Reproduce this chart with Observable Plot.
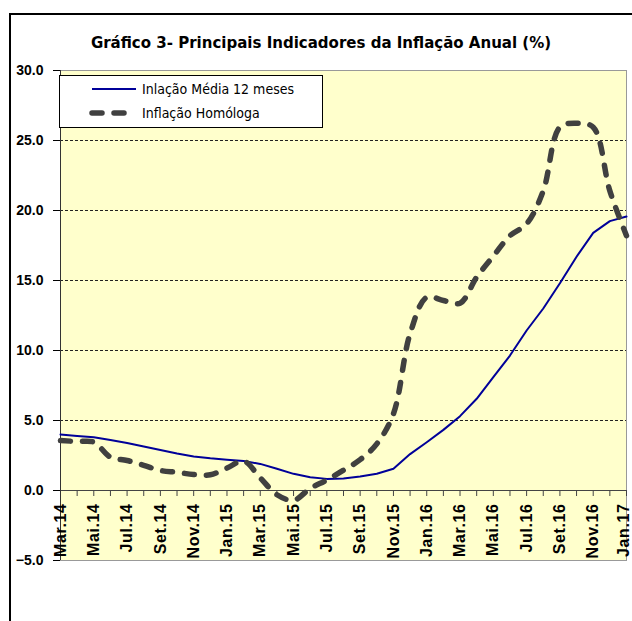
<!DOCTYPE html>
<html><head><meta charset="utf-8">
<script src="https://cdn.jsdelivr.net/npm/d3@7"></script>
<script src="https://cdn.jsdelivr.net/npm/@observablehq/plot@0.6"></script>
<style>
html,body{margin:0;padding:0;background:#fff;}
#wrap{position:relative;width:632px;height:621px;overflow:hidden;background:#fff;}
#border{position:absolute;left:9px;top:13px;width:700px;height:700px;border-left:2px solid #000;border-top:2px solid #000;}
#title{position:absolute;left:0;width:642px;top:32px;text-align:center;font:bold 16.7px "DejaVu Sans Condensed","Liberation Sans Narrow",sans-serif;color:#000;white-space:nowrap;}
#chart{position:absolute;left:0;top:60px;}
#legend{position:absolute;left:59px;top:75px;width:262px;height:51px;background:#fff;border:1px solid #000;font:14px "DejaVu Sans Condensed","Liberation Sans Narrow",sans-serif;color:#000;}
#legend .sw{position:absolute;left:28px;width:50px;height:10px;}
#legend .lb{position:absolute;left:82px;line-height:20px;white-space:nowrap;}
</style></head>
<body>
<div id="wrap">
  <div id="border"></div>
  <div id="title">Gráfico 3- Principais Indicadores da Inflação Anual (%)</div>
  <div id="chart"></div>
  <div id="legend"></div>
</div>
<script>
const months = ["Mar.14","Abr.14","Mai.14","Jun.14","Jul.14","Ago.14","Set.14","Out.14","Nov.14","Dez.14",
  "Jan.15","Fev.15","Mar.15","Abr.15","Mai.15","Jun.15","Jul.15","Ago.15","Set.15","Out.15","Nov.15","Dez.15",
  "Jan.16","Fev.16","Mar.16","Abr.16","Mai.16","Jun.16","Jul.16","Ago.16","Set.16","Out.16","Nov.16","Dez.16",
  "Jan.17"];
const xTickLabels = ["Mar.14","Mai.14","Jul.14","Set.14","Nov.14","Jan.15","Mar.15","Mai.15","Jul.15",
  "Set.15","Nov.15","Jan.16","Mar.16","Mai.16","Jul.16","Set.16","Nov.16","Jan.17"];
const yTicks = [-5, 0, 5, 10, 15, 20, 25, 30];
const gridValues = [5, 10, 15, 20, 25];
const seriesNames = ["Inlação Média 12 meses", "Inflação Homóloga"];
const mediaValues = [4.0, 3.9, 3.8, 3.6, 3.4, 3.15, 2.9, 2.65, 2.43, 2.3,
  2.2, 2.1, 1.9, 1.55, 1.19, 0.95, 0.83, 0.85, 1.0, 1.2, 1.55, 2.6,
  3.45, 4.33, 5.31, 6.55, 8.1, 9.64, 11.43, 13.0, 14.8, 16.7, 18.4, 19.24,
  19.57];
const homologaValues = [3.57, 3.5, 3.45, 2.38, 2.14, 1.8, 1.43, 1.3, 1.14, 1.12,
  1.6, 2.1, 0.9, -0.3, -0.7, 0.15, 0.75, 1.45, 2.2, 3.33, 5.48, 11.2,
  13.8, 13.57, 13.38, 15.24, 16.74, 18.2, 19.05, 21.4, 25.95, 26.24, 25.95, 21.4,
  18.2];

const media = months.map((m, i) => ({month: m, value: mediaValues[i]}));
const homologa = months.map((m, i) => ({month: m, value: homologaValues[i]}));

const blue = "#000099";
const grey = "#404040";
const lastLabel = xTickLabels[xTickLabels.length - 1];

const chart = Plot.plot({
  width: 632, height: 561,
  marginLeft: 60, marginRight: 6, marginTop: 10, marginBottom: 61,
  style: {background: "transparent", fontFamily: "'Liberation Sans', Arial, sans-serif", fontWeight: "bold", color: "#000", overflow: "visible"},
  x: {type: "point", domain: months, padding: 0, round: false, axis: null},
  y: {domain: [-5, 30]},
  marks: [
    Plot.frame({fill: "#FFFFCC", stroke: "#999"}),
    Plot.ruleY(gridValues, {stroke: "#222", strokeDasharray: "3,2", strokeWidth: 1}),
    Plot.ruleY([0], {stroke: "#444", strokeWidth: 1.2}),
    Plot.ruleX(months, {x: d => d, y1: 0, y2: 0, insetBottom: -6, stroke: "#444"}),
    Plot.ruleX([months[0]], {stroke: "#333"}),
    Plot.axisY({ticks: yTicks, tickFormat: d3.format(".1f"), tickSize: 7, tickPadding: 10, fontSize: 14, label: null}),
    Plot.line(media, {x: "month", y: "value", stroke: blue, strokeWidth: 2}),
    Plot.line(homologa, {x: "month", y: "value", stroke: grey, strokeWidth: 5.5, strokeDasharray: "10,12", strokeLinecap: "round", curve: "catmull-rom"}),
    Plot.text(xTickLabels.filter(d => d !== lastLabel), {x: d => d, y: 0, text: d => d, rotate: -90, textAnchor: "end", dy: 13, fontSize: 16}),
    Plot.text([lastLabel], {x: d => d, y: 0, text: d => d, rotate: -90, textAnchor: "end", dy: 13, dx: -3, fontSize: 16})
  ]
});
document.getElementById("chart").appendChild(chart);
d3.select(chart).selectAll('g[aria-label="text"] text').style("letter-spacing", "0.6px");

// legend
const legend = d3.select("#legend");
const rows = [
  {name: seriesNames[0], stroke: blue, width: 2, dash: null, top: 13},
  {name: seriesNames[1], stroke: grey, width: 5.5, dash: "10,12", top: 37}
];
rows.forEach(r => {
  const s = legend.append("svg").attr("class", "sw").style("top", (r.top - 5) + "px");
  s.append("line").attr("x1", 4).attr("x2", 48).attr("y1", 5).attr("y2", 5)
    .attr("stroke", r.stroke).attr("stroke-width", r.width)
    .attr("stroke-dasharray", r.dash).attr("stroke-linecap", r.dash ? "round" : "butt");
  legend.append("div").attr("class", "lb").style("top", (r.top - 10) + "px").text(r.name);
});
</script>
</body></html>
